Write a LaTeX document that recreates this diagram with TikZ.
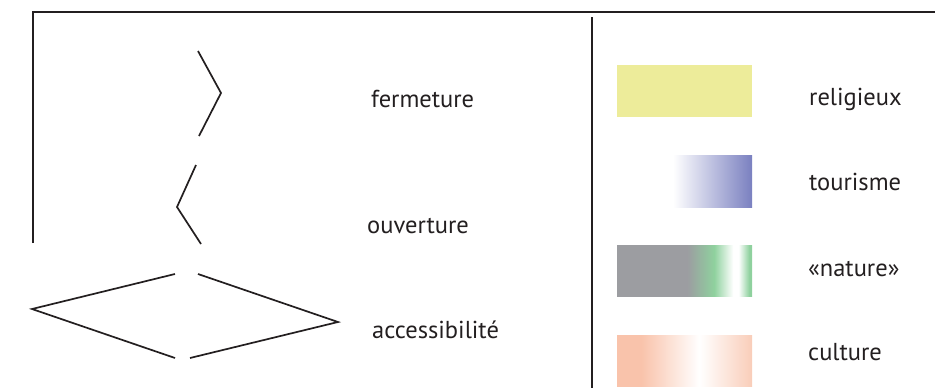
\documentclass[tikz,border=0pt]{standalone}
\usepackage{fontspec}
\setmainfont{PT Sans}
\definecolor{legInk}{HTML}{231F20}
\definecolor{legYellow}{HTML}{EDEC9A}
\definecolor{legBlue}{HTML}{7A80C0}
\definecolor{legGrey}{HTML}{9C9DA1}
\definecolor{legGreen}{HTML}{8FD19E}
\definecolor{legSalmon}{HTML}{F9C3AB}
\definecolor{legSalmonLight}{HTML}{F9CDB9}
\usetikzlibrary{positioning}
\pgfdeclarehorizontalshading{natureshade}{100bp}{
  color(0bp)=(legGrey); color(25bp)=(legGrey); color(51bp)=(legGrey);
  color(61bp)=(legGreen); color(68bp)=(white); color(70bp)=(white);
  color(74bp)=(legGreen); color(100bp)=(legGreen)}
\pgfdeclarehorizontalshading{cultureshade}{100bp}{
  color(0bp)=(legSalmon); color(25bp)=(legSalmon); color(34bp)=(legSalmon);
  color(55.5bp)=(white); color(75bp)=(legSalmonLight); color(100bp)=(legSalmonLight)}

\begin{document}
\begin{tikzpicture}[x=1pt, y=-1pt,
  frame/.style={draw=legInk, line width=1.4pt},
  sign/.style={draw=legInk, line width=1.7pt},
  lbl/.style={anchor=base west, inner sep=0pt, text=legInk,
    font=\fontsize{24.5}{28}\selectfont},
  swatch/.style={inner sep=0pt, outer sep=0pt}]
  \useasboundingbox (0,0) rectangle (935,388);
  % frame
  \draw[frame] (33,243) -- (33,12) -- (935,12);
  \draw[draw=legInk, line width=1.1pt] (592,17) -- (592,388);
  % left side: signs
  \draw[sign] (198,51) -- (221,93) -- (199,136);
  \draw[sign] (196,165) -- (177,207) -- (201,244);
  \draw[sign] (175,274) -- (32,309) -- (175,358);
  \draw[sign] (198,274) -- (338,322) -- (190,358);
  \node[lbl] (ferm) at (371,107) {fermeture};
  \node[lbl] (ouv) at (367,233) {ouverture};
  \node[lbl] (acc) at (372,338) {accessibilité};
  % right side: colours
  \fill[legYellow] (617,65) rectangle (752,117);
  \shade[left color=white, right color=legBlue] (673,155) rectangle (752,207);
  \shade[shading=natureshade] (617,245) rectangle (752,296);
  \shade[shading=cultureshade] (617,335) rectangle (752,386);
  \node[lbl] (rel) at (809,105) {religieux};
  \node[lbl] (tour) at (809,190) {tourisme};
  \node[lbl] (nat) at (808,276) {«nature»};
  \node[lbl] (cult) at (808,360) {culture};
\end{tikzpicture}
\end{document}
